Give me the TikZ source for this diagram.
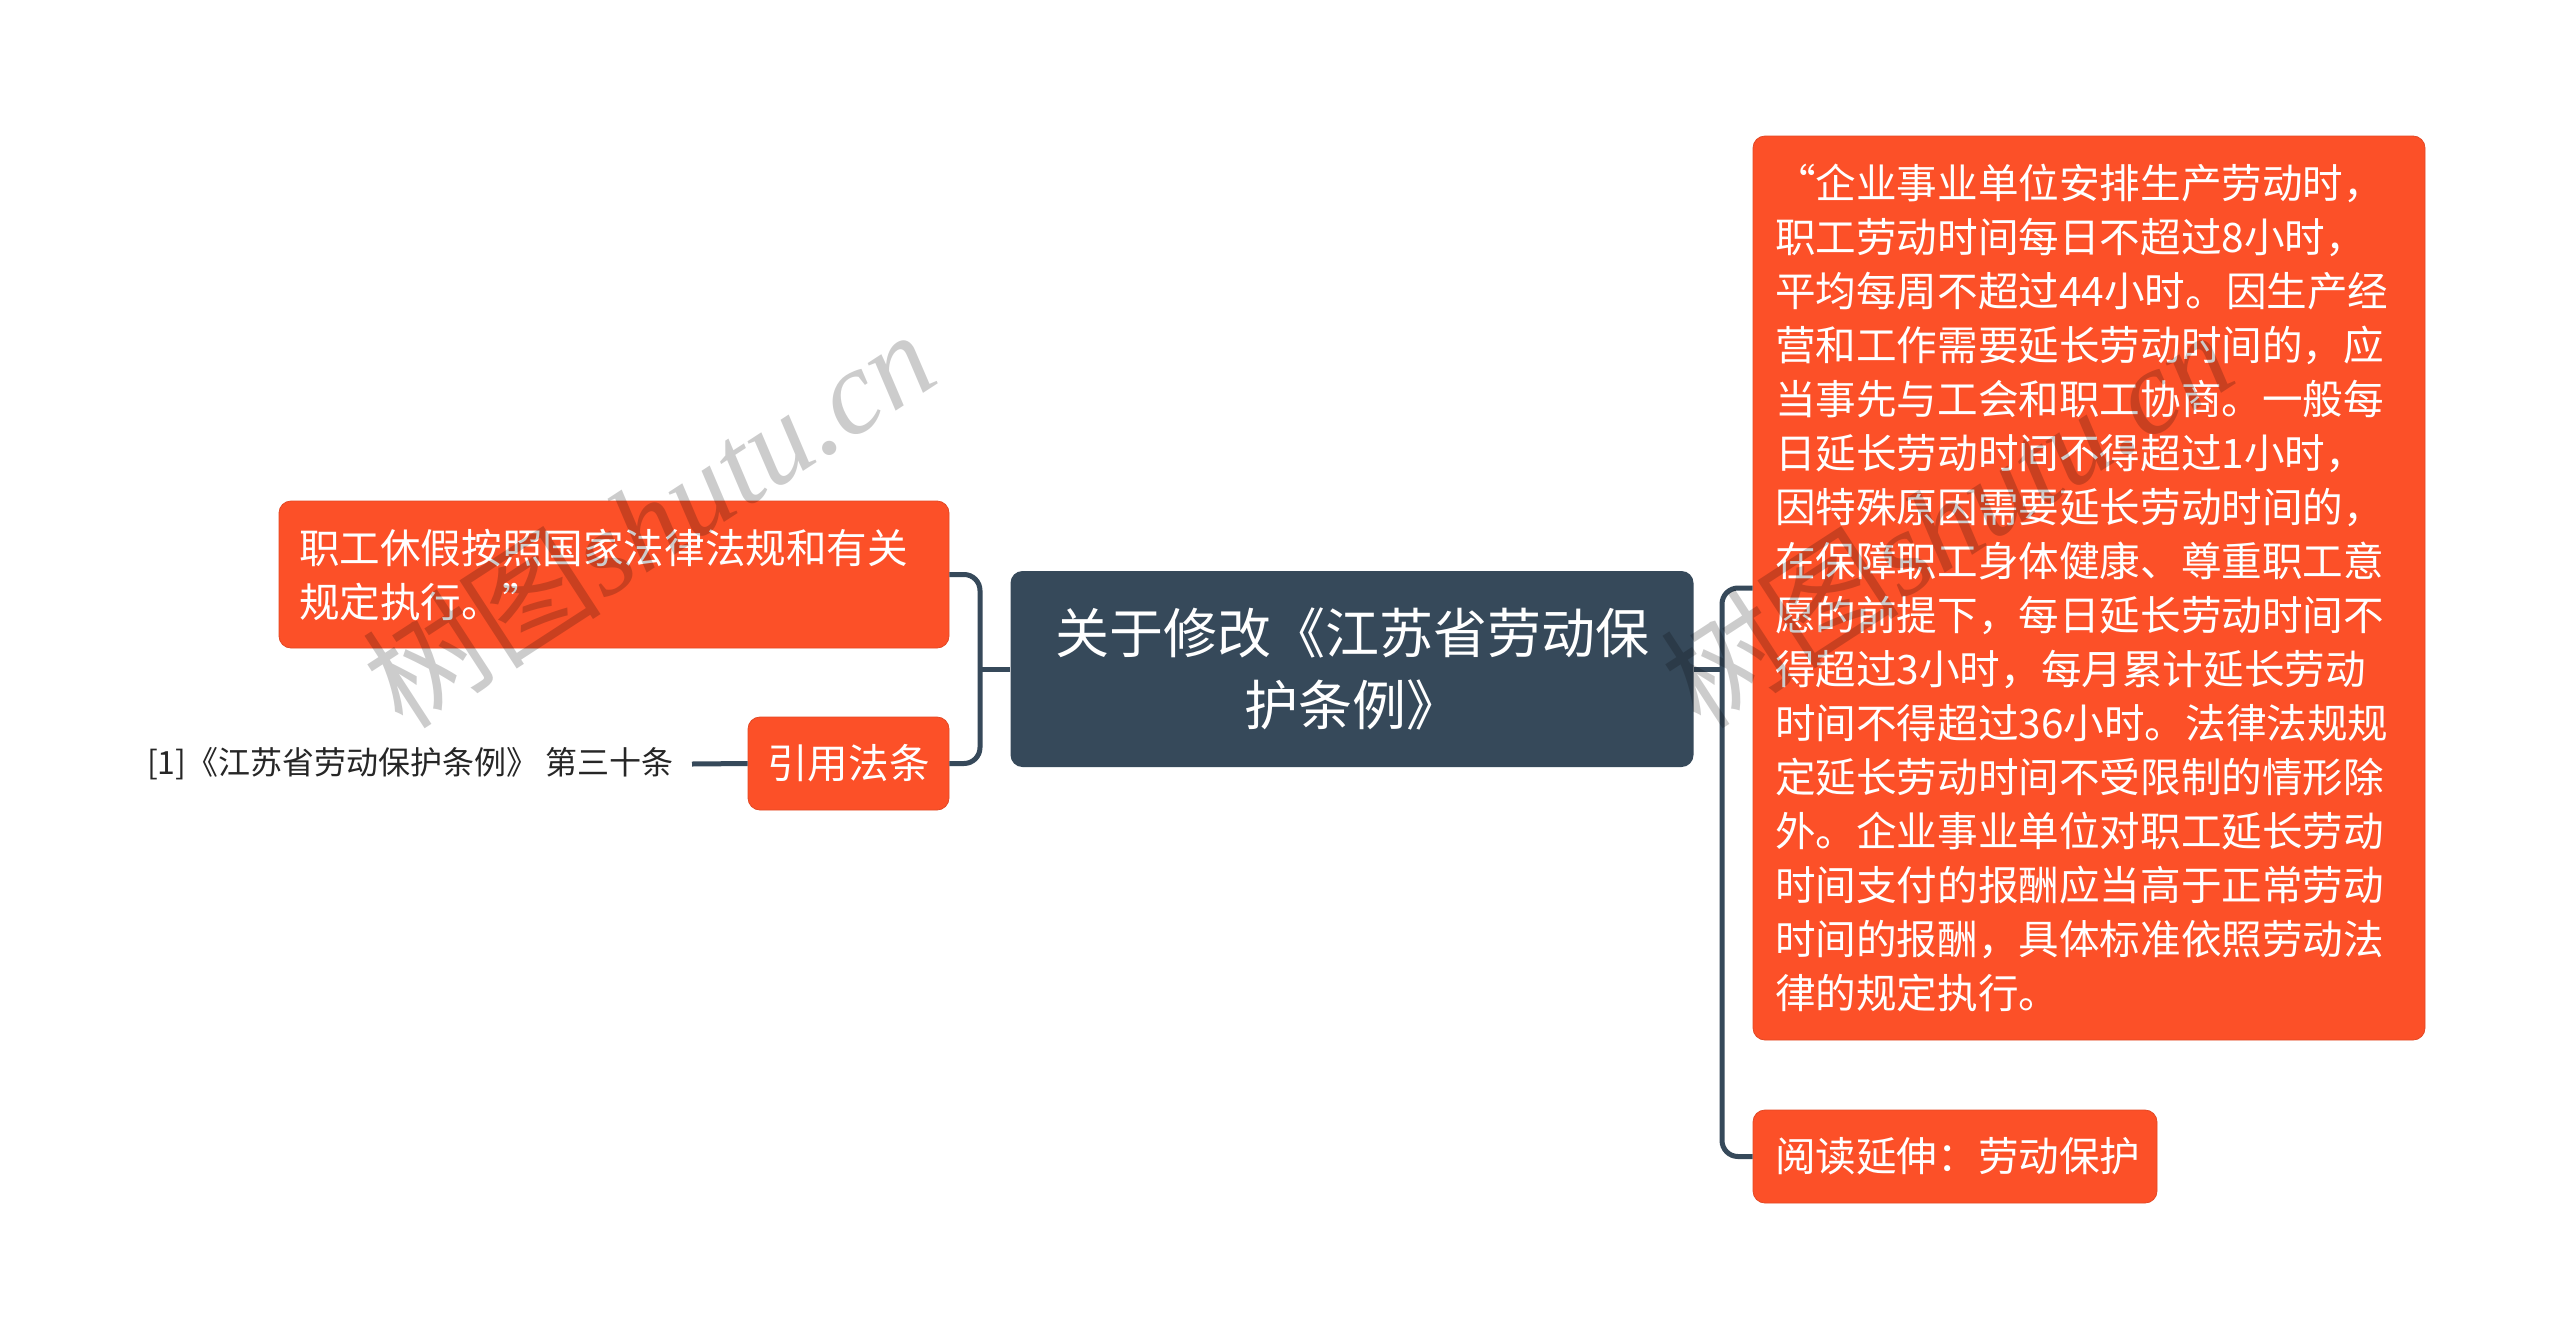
\documentclass[tikz,border=0pt]{standalone}
\usepackage{fontspec}
\setmainfont{Noto Sans CJK SC}
\newfontfamily\wmlatin{Liberation Serif}
\definecolor{orangeC}{HTML}{FC5028}
\definecolor{slate}{HTML}{36495A}
\tikzset{
  orangebox/.style={fill=orangeC, draw=orangeC!90!black, line width=0.4pt, rounded corners=6pt, text=white,
    font=\fontsize{20.3}{27}\selectfont, inner ysep=0pt},
  centralbox/.style={fill=slate, rounded corners=6pt, text=white,
    font=\fontsize{27}{36}\selectfont, align=center, inner sep=0pt,
    minimum width=341.5pt, minimum height=98pt},
  conn/.style={draw=slate, line width=2.5pt, rounded corners=8pt},
  wm/.style={text=black, opacity=0.2, font=\fontsize{60}{60}\selectfont, inner sep=0pt}
}
\begin{document}
\begin{tikzpicture}[x=0.5pt,y=-0.5pt]
\useasboundingbox (0,0) rectangle (2560,1339);
\fill[white] (0,0) rectangle (2560,1339);

% central
\node[centralbox] (central) at (1352,669) {关于修改《江苏省劳动保\\护条例》};

% left branch
\node[orangebox, align=left, text width=315pt, inner xsep=10pt, minimum height=73.5pt] (left1) at (614,574.5)
  {职工休假按照国家法律法规和有关\\规定执行。”};
\node[orangebox, align=center, minimum width=100.5pt, minimum height=46.5pt, inner xsep=0pt] (yinyong) at (848.5,763.5) {引用法条};
\node[font=\fontsize{16}{19}\selectfont, text=black!85, inner sep=0pt, anchor=east] (cite) at (674,764) {[1]《江苏省劳动保护条例》 第三十条};

% right branch
\node[orangebox, align=left, text width=314pt, inner xsep=11pt, minimum height=452pt] (big) at (2089,588)
  {“企业事业单位安排生产劳动时，\\
职工劳动时间每日不超过8小时，\\
平均每周不超过44小时。因生产经\\
营和工作需要延长劳动时间的，应\\
当事先与工会和职工协商。一般每\\
日延长劳动时间不得超过1小时，\\
因特殊原因需要延长劳动时间的，\\
在保障职工身体健康、尊重职工意\\
愿的前提下，每日延长劳动时间不\\
得超过3小时，每月累计延长劳动\\
时间不得超过36小时。法律法规规\\
定延长劳动时间不受限制的情形除\\
外。企业事业单位对职工延长劳动\\
时间支付的报酬应当高于正常劳动\\
时间的报酬，具体标准依照劳动法\\
律的规定执行。};
\node[orangebox, align=left, text width=180pt, inner xsep=11pt, minimum height=46.5pt] (yuedu) at (1955,1156.5) {阅读延伸：劳动保护};

% connectors
\coordinate (bl) at (980,669);
\coordinate (br) at (1722,669);
\draw[conn] (central.west) -- (bl);
\draw[conn] (left1.east) -| (bl) |- (yinyong.east);
\path (cite.east) ++(18,0) coordinate (citeend);
\draw[draw=slate, line width=2.5pt] (citeend) -- (yinyong.west);
\draw[conn] (central.east) -- (br);
\draw[conn] (big.west) -| (br) |- (yuedu.west);

% watermarks
\node[wm, rotate=33] (wm1) at (648,518) {树图{\wmlatin\itshape shutu.cn}};
\node[wm, rotate=33] (wm2) at (1946,518) {树图{\wmlatin\itshape shutu.cn}};
\end{tikzpicture}
\end{document}
